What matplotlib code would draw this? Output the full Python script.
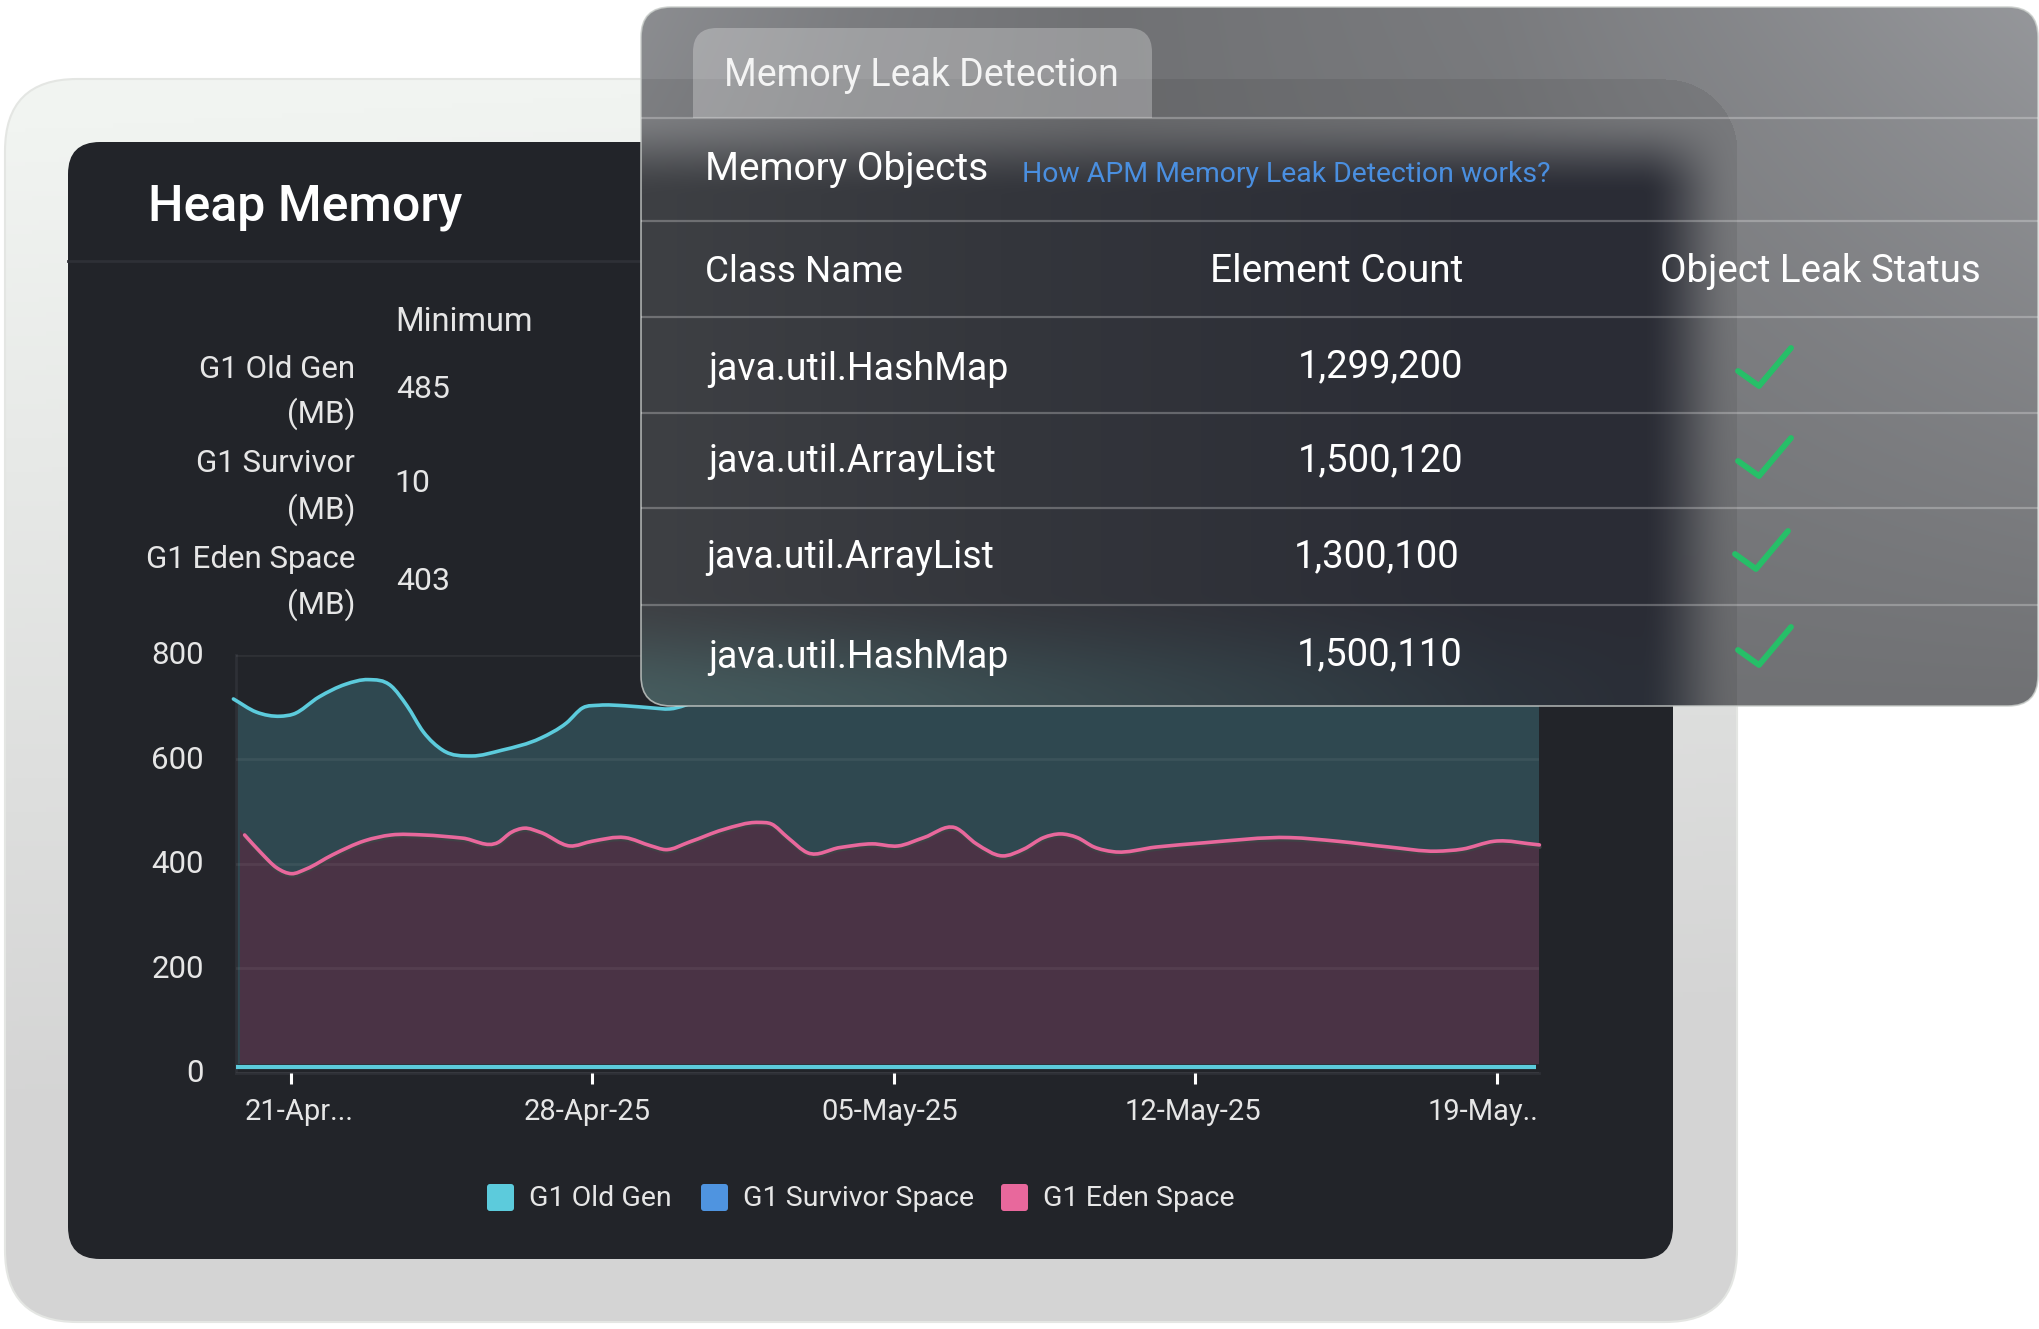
import numpy as np
import matplotlib
matplotlib.use('Agg')
import matplotlib.pyplot as plt
import matplotlib.patheffects as pe
from matplotlib.patches import FancyBboxPatch, PathPatch, Rectangle
from matplotlib.path import Path
from matplotlib.transforms import ScaledTranslation

plt.rcParams['font.family'] = ['Roboto', 'DejaVu Sans']

W, H = 2039, 1329

# chart values, x is days after 21-Apr-25
old_gen_days = [-1.33, -0.8, -0.24, 0.06, 0.66, 1.27, 1.8, 2.33, 2.7, 3.08, 3.53, 4.2, 4.9, 5.8,
                6.4, 6.78, 7.16, 7.76, 8.37, 8.8, 9.5, 12, 16, 20, 24, 28.98]
old_gen_values = [715, 690, 682, 686, 719, 743, 752, 740, 702, 652, 617, 606, 617, 640,
                  669, 698, 703, 702, 698, 696, 712, 725, 720, 715, 720, 715]
eden_days = [-1.18, -1.07, -0.69, -0.32, 0.02, 0.36, 0.97, 1.72, 2.33, 3.08, 3.99, 4.82, 5.12, 5.42, 5.8,
             6.48, 7.0, 7.76, 8.37, 8.7, 9.27, 10.03, 10.86, 11.16, 11.54, 12.0, 12.75, 13.5, 14.1,
             14.7, 15.42, 15.92, 16.52, 17.02, 17.48, 17.87, 18.26, 18.65, 19.1, 20.1, 21.2, 23.2,
             24.3, 25.5, 26.6, 27.2, 27.94, 28.99]
eden_values = [465, 455, 421, 392, 381, 390, 417, 444, 455, 455, 449, 441, 460, 468, 460,
               434, 443, 450, 434, 427, 442, 465, 479, 476, 450, 421, 431, 438, 434,
               450, 469, 438, 415, 428, 450, 457, 450, 432, 423, 432, 440, 450,
               443, 432, 424, 428, 443, 436]
survivor_days = [-1.27, 7, 14, 21, 28.9]
survivor_values = [11.5, 11.5, 11.5, 11.5, 11.5]

tick_days = [0, 7, 14, 21, 28]
tick_labels = ['21-Apr...', '28-Apr-25', '05-May-25', '12-May-25', '19-May..']
tick_shift = [8, -5, -4, -2, -14]
y_ticks = [0, 200, 400, 600, 800]

legend_names = ['G1 Old Gen', 'G1 Survivor Space', 'G1 Eden Space']
legend_colors = ['#5ccbdc', '#4f94e0', '#e8689c']
legend_box_x = [487, 701, 1001]
legend_text_x = [529, 743, 1043]

stat_names = [('G1 Old Gen', 369), ('(MB)', 414), ('G1 Survivor', 464), ('(MB)', 510),
              ('G1 Eden Space', 559), ('(MB)', 605)]
stat_minimum = [('485', 396, 389), ('10', 394, 484), ('403', 396, 581)]

class_names = ['java.util.HashMap', 'java.util.ArrayList', 'java.util.ArrayList', 'java.util.HashMap']
element_counts = ['1,299,200', '1,500,120', '1,300,100', '1,500,110']
class_x = [708, 708, 706, 708]
class_y = [369, 462, 558, 657]
count_x = [1463, 1463, 1460, 1463]
count_y = [367, 461, 557, 655]
check_x = [1738, 1738, 1735, 1738]
check_y = [371, 461, 554, 650]
row_lines = [118, 221, 317, 413, 508, 605]

CARD = '#222429'
TEAL = '#2f4850'
PLUM = '#4a3345'
GRID = '#2e3036'


def smooth(x, y):
    # cubic hermite through the read points, as bezier segments
    x = np.asarray(x, float)
    y = np.asarray(y, float)
    m = np.gradient(y, x)
    verts = [(x[0], y[0])]
    codes = [Path.MOVETO]
    for i in range(len(x) - 1):
        h = x[i + 1] - x[i]
        verts += [(x[i] + h / 3, y[i] + m[i] * h / 3),
                  (x[i + 1] - h / 3, y[i + 1] - m[i + 1] * h / 3),
                  (x[i + 1], y[i + 1])]
        codes += [Path.CURVE4] * 3
    return verts, codes


def area(x, y, floor):
    verts, codes = smooth(x, y)
    verts = verts + [(x[-1], floor), (x[0], floor), (x[0], y[0])]
    codes = codes + [Path.LINETO, Path.LINETO, Path.CLOSEPOLY]
    return Path(verts, codes)


def rounded(x0, y0, x1, y1, r, **kw):
    return FancyBboxPatch((x0, y0), x1 - x0, y1 - y0, boxstyle='round,pad=0,rounding_size=%g' % r, **kw)


def smoothstep(a, b, v):
    t = np.clip((v - a) / (b - a), 0, 1)
    return t * t * (3 - 2 * t)


def pixel_axes(fig, z):
    a = fig.add_axes([0, 0, 1, 1], zorder=z)
    a.set_xlim(0, W)
    a.set_ylim(H, 0)
    a.axis('off')
    a.patch.set_alpha(0)
    return a


fig = plt.figure(figsize=(W / 100, H / 100), dpi=100, facecolor='white')
page = pixel_axes(fig, 0)

# outer light panel with a soft gradient
grad = np.linspace(0, 1, 256)[:, None] * np.ones((256, 256))
grad = np.clip(grad * 1.25 + np.linspace(0, 1, 256)[None, :] * 0.1 - 0.05, 0, 1)
c_top = np.array([241, 244, 241]) / 255
c_bot = np.array([212, 212, 212]) / 255
rgb = c_top + (c_bot - c_top) * grad[..., None]
panel = rounded(5, 79, 1737, 1322, 72, fc='none', ec='#e4e6e3', lw=1.5, zorder=3)
page.add_patch(panel)
im = page.imshow(rgb, extent=(5, 1737, 1322, 79), aspect='auto', zorder=1)
im.set_clip_path(rounded(5, 79, 1737, 1322, 72, transform=page.transData))
page.set_xlim(0, W)
page.set_ylim(H, 0)

# dark card
page.add_patch(rounded(68, 142, 1673, 1259, 32, fc=CARD, ec='none', zorder=4))
page.plot([68, 660], [261, 261], color=GRID, lw=2, zorder=5)
page.text(148, 207, 'Heap Memory', color='white', fontsize=36, fontweight='medium', va='center', ha='left', zorder=6)
page.text(395, 322, 'Minimum', color='#e6e6e6', fontsize=23.5, va='center', ha='left', zorder=6)
for name, y in stat_names:
    page.text(355, y, name, color='#e6e6e6', fontsize=22.5, va='center', ha='right', zorder=6)
for val, x, y in stat_minimum:
    page.text(x, y, val, color='#e6e6e6', fontsize=23, va='center', ha='left', zorder=6)

# legend
for name, col, bx, tx in zip(legend_names, legend_colors, legend_box_x, legend_text_x):
    page.add_patch(rounded(bx, 1184, bx + 27, 1211, 3, fc=col, ec='none', zorder=6))
    page.text(tx, 1199, name, color='#e6e6e6', fontsize=20.5, va='center', ha='left', zorder=6)

# chart, placed on the card
ax = fig.add_axes([236 / W, 1 - 1073 / H, (1539 - 236) / W, (1073 - 654.5) / H], zorder=1)
ax.patch.set_alpha(0)
ax.set_xlim(-1.27, 28.98)
ax.set_ylim(0, 800)
for s in ax.spines.values():
    s.set_visible(False)
ax.spines['left'].set_visible(True)
ax.spines['left'].set_color(GRID)
ax.spines['left'].set_linewidth(2)
ax.spines['bottom'].set_visible(True)
ax.spines['bottom'].set_color(GRID)
ax.spines['bottom'].set_linewidth(2)

fill_floor = 17
ax.add_patch(PathPatch(area(old_gen_days, old_gen_values, fill_floor), fc=TEAL, ec='none', zorder=1))
ax.add_patch(PathPatch(area(eden_days, eden_values, fill_floor), fc=PLUM, ec='none', zorder=2))
ax.set_yticks(y_ticks)
ax.set_yticklabels(y_ticks)
ax.set_xticks(tick_days)
ax.set_xticklabels(tick_labels)
ax.set_axisbelow(False)
ax.grid(axis='y', color='white', alpha=0.06, lw=2, zorder=3)
ax.tick_params(axis='y', length=0, pad=23, labelcolor='#e6e6e6', labelsize=22.5)
ax.tick_params(axis='x', length=8, width=2.2, color='white', pad=10, labelcolor='#e6e6e6', labelsize=21, direction='out')
for lab, dx in zip(ax.get_xticklabels(), tick_shift):
    lab.set_transform(lab.get_transform() + ScaledTranslation(dx / 100, 0, fig.dpi_scale_trans))
for lab in ax.get_yticklabels():
    lab.set_transform(lab.get_transform() + ScaledTranslation(0, 0.02, fig.dpi_scale_trans))

v, c = smooth(old_gen_days, old_gen_values)
ax.add_patch(PathPatch(Path(v, c), fc='none', ec=legend_colors[0], lw=2.6, zorder=4, clip_on=False, capstyle='round'))
v, c = smooth(eden_days[1:], eden_values[1:])
ax.add_patch(PathPatch(Path(v, c), fc='none', ec=legend_colors[2], lw=2.6, zorder=4, clip_on=False, capstyle='round',
                       path_effects=[pe.SimpleLineShadow(offset=(0.3, -1.6), shadow_color='#3f4246', alpha=1), pe.Normal()]))
ax.plot(survivor_days, survivor_values, color=legend_colors[0], lw=3, zorder=5, solid_capstyle='butt', clip_on=False)

# frosted glass panel, colours worked out per pixel
glass = pixel_axes(fig, 2)
gx0, gx1, gy0, gy1 = 641, 2038, 7, 706
X, Y = np.meshgrid(np.arange(gx0, gx1), np.arange(gy0, gy1))
top = np.interp(X, [641, 850, 1100, 1500, 2039], [140, 124, 112, 122, 150])
light = top + (112 - top) * (Y / 706.0)
# outer panel still shows through with a sharp edge
r = 72
qx = np.maximum(X - (1737 - r), 0)
qy = np.maximum((79 + r) - Y, 0)
inside = (np.hypot(qx, qy) <= r) & (X < 1737) & (Y >= 79)
light = light * np.where(inside, 0.92, 1.0)
dark_r = np.interp(X, [641, 1000, 1500, 1700], [62, 52, 42, 42])
dark_g = np.interp(X, [641, 1000, 1500, 1700], [64, 54, 44, 44])
dark_b = np.interp(X, [641, 1000, 1500, 1700], [68, 60, 53, 53])
tealish = smoothstep(590, 705, Y) * np.interp(X, [641, 900, 1300, 1620], [1, 0.9, 0.5, 0.1])
dark_r = dark_r + tealish * 8
dark_g = dark_g + tealish * 28
dark_b = dark_b + tealish * 26
mask = smoothstep(1736, 1640, X) * smoothstep(112, 195, Y)
rgb = np.dstack([light + (dark_r - light) * mask,
                 light * 1.01 + (dark_g - light * 1.01) * mask,
                 light * 1.035 + (dark_b - light * 1.035) * mask]) / 255
im = glass.imshow(np.clip(rgb, 0, 1), extent=(gx0, gx1, gy1, gy0), aspect='auto', zorder=1, interpolation='bilinear')
im.set_clip_path(rounded(gx0, gy0, gx1, gy1, 30, transform=glass.transData))
glass.set_xlim(0, W)
glass.set_ylim(H, 0)
glass.add_patch(rounded(gx0, gy0, gx1, gy1, 30, fc='none', ec='#c9cdca', lw=1.2, alpha=0.8, zorder=2))

tab = rounded(693, 28, 1152, 170, 24, fc='white', alpha=0.27, ec='none', zorder=2)
glass.add_patch(tab)
tab.set_clip_path(Rectangle((0, 0), W, 118, transform=glass.transData))
for y in row_lines:
    glass.plot([gx0, gx1], [y, y], color='white', alpha=0.26, lw=1.6, zorder=3, solid_capstyle='butt')

glass.text(724, 76, 'Memory Leak Detection', color='#f4f4f4', fontsize=27, va='center', ha='left', zorder=5)
glass.text(705, 170, 'Memory Objects', color='white', fontsize=28, va='center', ha='left', zorder=5)
glass.text(1022, 174, 'How APM Memory Leak Detection works?', color='#4a8fe0', fontsize=20.4, va='center', ha='left', zorder=5)
glass.text(705, 272, 'Class Name', color='white', fontsize=26.5, va='center', ha='left', zorder=5)
glass.text(1463, 272, 'Element Count', color='white', fontsize=28, va='center', ha='right', zorder=5)
glass.text(1660, 272, 'Object Leak Status', color='white', fontsize=27.7, va='center', ha='left', zorder=5)
for name, cx, cy in zip(class_names, class_x, class_y):
    glass.text(cx, cy, name, color='white', fontsize=27, va='center', ha='left', zorder=5)
for count, cx, cy in zip(element_counts, count_x, count_y):
    glass.text(cx, cy, count, color='white', fontsize=27.5, va='center', ha='right', zorder=5)
for cx, cy in zip(check_x, check_y):
    glass.plot([cx, cx + 21, cx + 53], [cy, cy + 15, cy - 23], color='#26bf68', lw=4.2, zorder=5,
               solid_joinstyle='round', solid_capstyle='round')

fig.savefig('out.png', dpi=100)
